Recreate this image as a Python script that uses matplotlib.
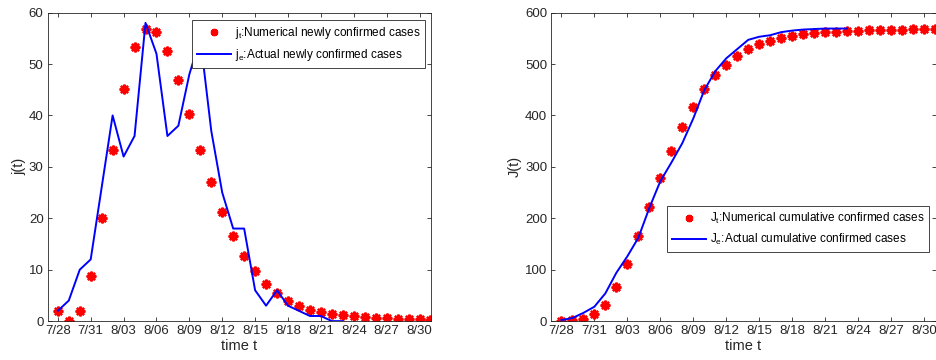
import numpy as np
import matplotlib.pyplot as plt

plt.rcParams['font.family'] = ['Liberation Sans', 'DejaVu Sans']
plt.rcParams['mathtext.fontset'] = 'custom'
plt.rcParams['mathtext.rm'] = 'Liberation Sans'

# days from 7/28 to 8/31
day_labels = ["7/28", "7/31", "8/03", "8/06", "8/09", "8/12",
              "8/15", "8/18", "8/21", "8/24", "8/27", "8/30"]

# numerical newly confirmed (model), 7/28 .. 8/31
new_model = [2.0, 0.0, 2.0, 8.75, 20.1, 33.3, 45.2, 53.3, 56.9, 56.3,
             52.6, 46.8, 40.2, 33.3, 27.0, 21.3, 16.6, 12.7, 9.7, 7.2,
             5.4, 4.0, 3.0, 2.2, 1.7, 1.4, 1.1, 1.0, 0.8, 0.65,
             0.6, 0.5, 0.4, 0.35, 0.3]
# actual newly confirmed, 7/28 .. 8/23
new_actual = [2, 4, 10, 12, 26, 40, 32, 36, 58, 52,
              36, 38, 48, 55, 37, 25, 18, 18, 6, 3,
              6, 3, 2, 1, 1, 0, 0]

# numerical cumulative confirmed (model)
cum_model = [1, 2, 4, 13, 32, 67, 111, 165, 222, 279,
             330, 378, 417, 451, 478, 499, 516, 529, 539, 545,
             550, 555, 558, 560, 562, 563, 564, 565, 566, 567,
             567, 567, 568, 568, 569]
# actual cumulative confirmed
cum_actual = [2, 6, 16, 28, 54, 94, 126, 162, 220, 272,
              308, 346, 394, 449, 486, 511, 529, 547, 553, 556,
              562, 565, 567, 568, 569, 569, 569]

fig = plt.figure(figsize=(9.36, 3.6), dpi=100)
ax1 = fig.add_axes([0.051, 0.108, 0.4095, 0.857])
ax2 = fig.add_axes([0.589, 0.108, 0.4105, 0.857])

panels = [
    (ax1, new_model, new_actual, 60, 10, "j(t)",
     r"j$_\mathregular{t}$:Numerical newly confirmed cases",
     r"j$_\mathregular{e}$:Actual newly confirmed cases",
     (0.985, 0.975)),
    (ax2, cum_model, cum_actual, 600, 100, "J(t)",
     r"J$_\mathregular{t}$:Numerical cumulative confirmed cases",
     r"J$_\mathregular{e}$:Actual cumulative confirmed cases",
     (0.983, 0.3725)),
]

for ax, model, actual, ymax, ystep, ylab, lab_m, lab_a, anchor in panels:
    ax.plot(np.arange(len(model)), model, linestyle='none', marker=(8, 2, 0),
            markersize=7, markeredgewidth=1.7, color='red', label=lab_m)
    ax.plot(np.arange(len(actual)), actual, color='blue', linewidth=1.4,
            label=lab_a)
    ax.set_xlim(-0.92, 34.05)
    ax.set_ylim(0, ymax)
    ax.set_xticks(np.arange(0, 34, 3))
    ax.set_xticklabels(day_labels)
    ax.set_yticks(np.arange(0, ymax + 1, ystep))
    ax.tick_params(direction='in', top=True, right=True, labelsize=9.5,
                   colors='0.15', length=3, width=0.6, pad=3)
    for sp in ax.spines.values():
        sp.set_color('0.15')
        sp.set_linewidth(0.6)
    ax.set_xlabel("time t", fontsize=10.5, color='0.15', labelpad=1)
    ax.set_ylabel(ylab, fontsize=10.5, color='0.15', labelpad=2)
    leg = ax.legend(loc='upper right', bbox_to_anchor=anchor, borderaxespad=0,
                    fancybox=False, edgecolor='0.15', framealpha=1,
                    fontsize=8.5, handlelength=2.9, handletextpad=0.3,
                    markerscale=0.75, borderpad=0.4, labelspacing=0.5)
    leg.get_frame().set_linewidth(0.6)

plt.savefig("out.png", dpi=100)
